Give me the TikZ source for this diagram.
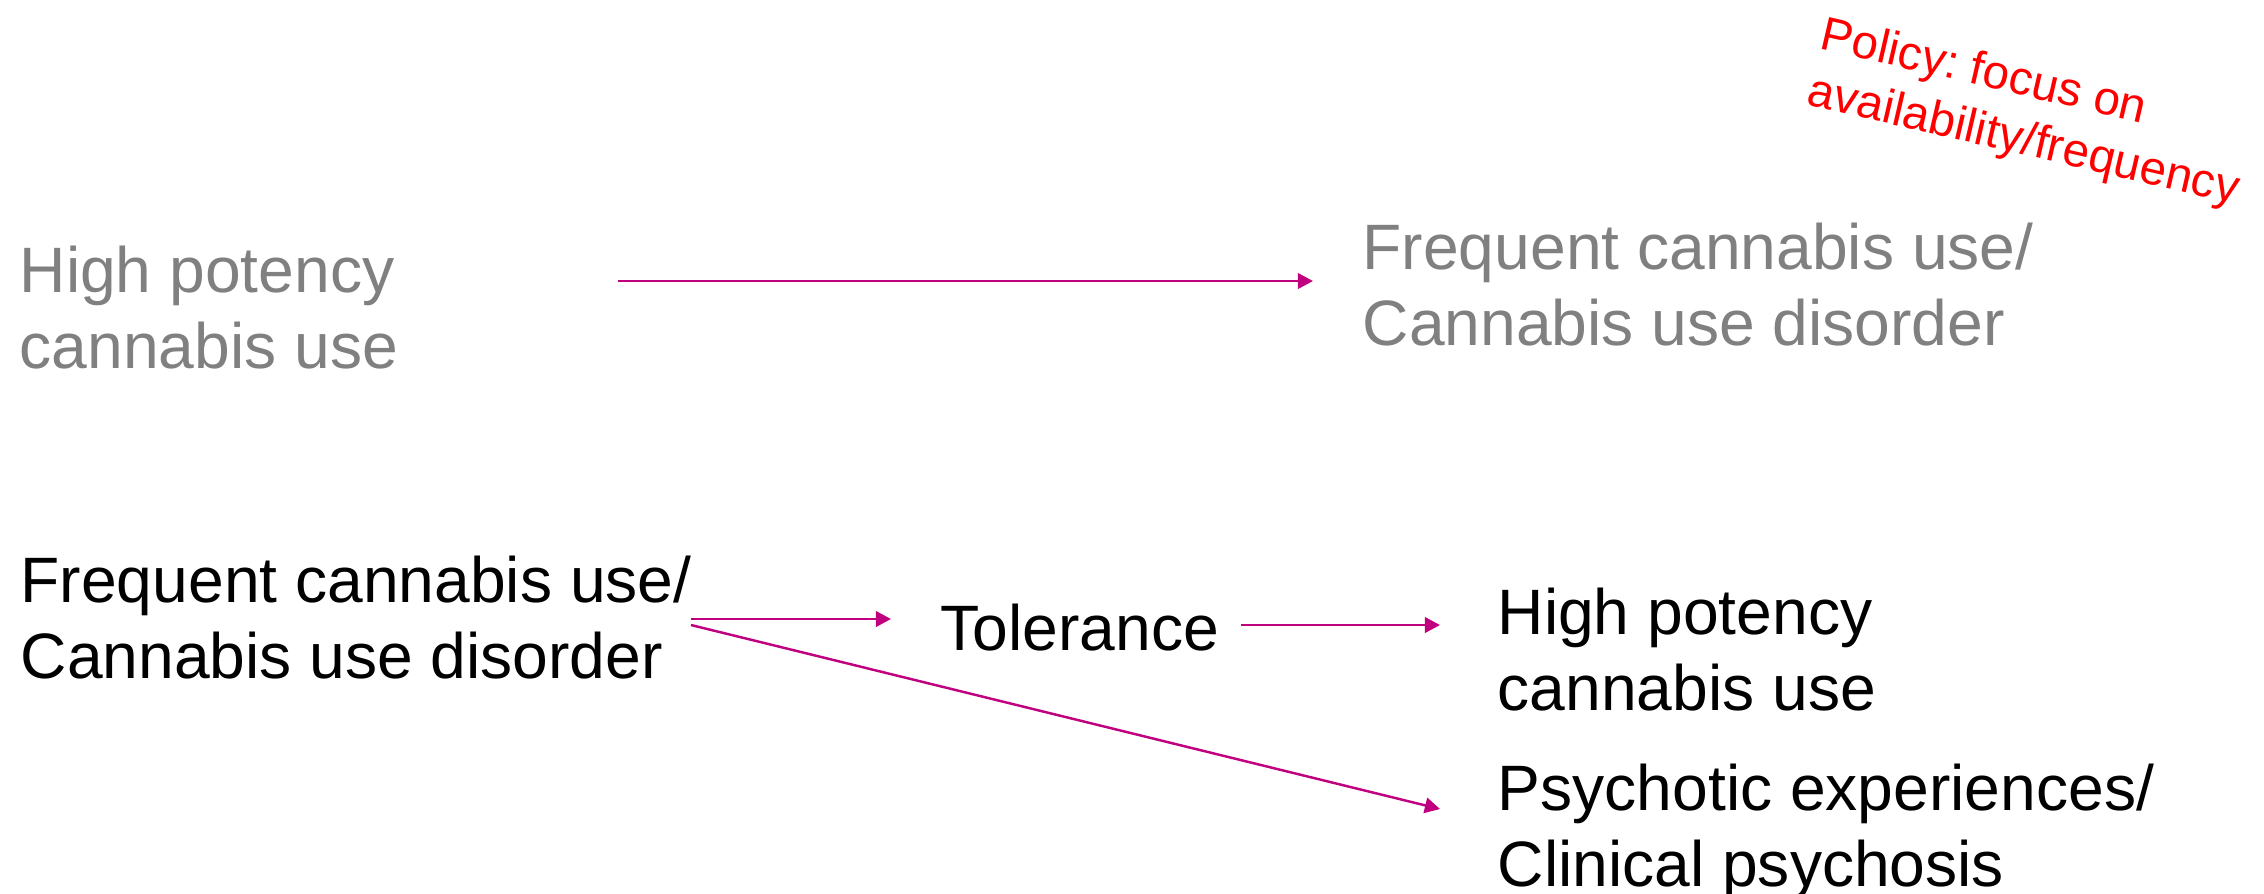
\documentclass[tikz,border=0pt]{standalone}
\usepackage{fontspec}
\setmainfont{Liberation Sans}
\usetikzlibrary{arrows.meta,calc}

\definecolor{arrowPink}{RGB}{192,0,126}
\definecolor{fadedGrey}{RGB}{128,128,128}
\definecolor{policyRed}{RGB}{255,0,0}
\frenchspacing

\begin{document}
\begin{tikzpicture}[x=0.01cm,y=-0.01cm,
	txt/.style={anchor=north west,inner sep=0pt,align=left,font=\fontsize{18.25pt}{21.8pt}\selectfont},
	flow/.style={-{Triangle[length=4.3pt,width=4.4pt]},line width=0.7pt,draw=arrowPink}]
	\useasboundingbox (0,0) rectangle (2264,893);

	% top row, greyed out
	\node[txt,text=fadedGrey] (highTop) at (19,245) {High potency\\cannabis use};
	\node[txt,text=fadedGrey] (freqTop) at (1362,222) {Frequent cannabis use/\\Cannabis use disorder};
	\draw[flow] ($(highTop.north west)+(599,36)$) -- ($(freqTop.north west)+(-49,59)$);

	% policy note
	\node[txt,text=policyRed,rotate=-13,font=\fontsize{13.5pt}{16.4pt}\selectfont] (policy) at (1826,14) {Policy: focus on\\availability/frequency};

	% bottom row
	\node[txt] (freqLow) at (20,555) {Frequent cannabis use/\\Cannabis use disorder};
	\node[txt] (tolerance) at (940,603) {Tolerance};
	\node[txt] (highLow) at (1497,587) {High potency\\cannabis use};
	\node[txt] (psychosis) at (1497,763) {Psychotic experiences/\\Clinical psychosis};

	\draw[flow] ($(freqLow.north west)+(671,64)$) -- ($(tolerance.north west)+(-49,16)$);
	\draw[flow] ($(tolerance.north west)+(301,22)$) -- ($(highLow.north west)+(-57,38)$);
	\draw[flow] ($(freqLow.north west)+(671,70)$) -- ($(psychosis.north west)+(-57,46)$);
\end{tikzpicture}
\end{document}
